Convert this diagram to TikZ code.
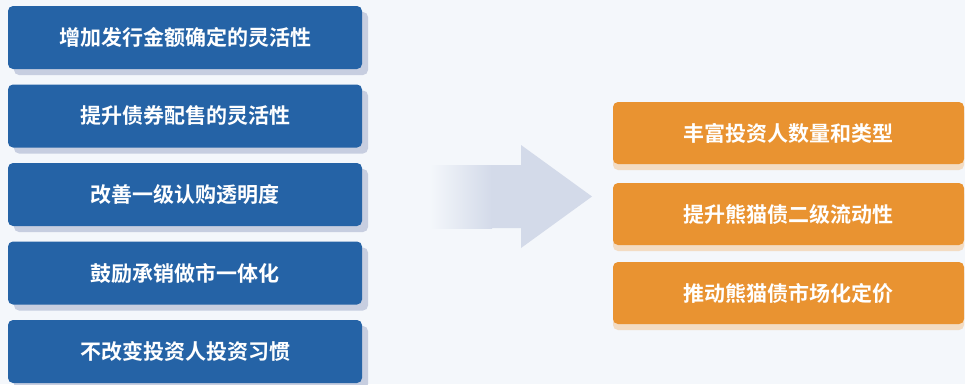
\documentclass[tikz,border=0pt]{standalone}
\usepackage{fontspec}
\newfontfamily\cjk{Noto Sans CJK SC}[BoldFont={Noto Sans CJK SC Bold}]
\definecolor{bg}{HTML}{F4F7FB}
\definecolor{bluebox}{HTML}{2563A6}
\definecolor{blueshadow}{HTML}{C7CEE0}
\definecolor{orangebox}{HTML}{E99331}
\definecolor{orangeshadow}{HTML}{F3DCC3}
\definecolor{arrowcol}{HTML}{D3DAE9}
\tikzset{
  leftbox/.style={rectangle, rounded corners=5pt, fill=bluebox, minimum width=354pt, minimum height=63pt,
    text=white, font=\cjk\bfseries\fontsize{21}{21}\selectfont, inner sep=0pt},
  rightbox/.style={rectangle, rounded corners=5pt, fill=orangebox, minimum width=351pt, minimum height=62pt,
    text=white, font=\cjk\bfseries\fontsize{21}{21}\selectfont, inner sep=0pt},
  lshadow/.style={rectangle, rounded corners=5pt, fill=blueshadow, minimum width=354pt, minimum height=63pt, inner sep=0pt},
  rshadow/.style={rectangle, rounded corners=5pt, fill=orangeshadow, minimum width=351pt, minimum height=62pt, inner sep=0pt},
}
\begin{document}
\begin{tikzpicture}[x=1pt,y=-1pt]
\fill[bg] (0,0) rectangle (965,384);
\useasboundingbox (0,0) rectangle (965,384);
% left boxes
\foreach \i/\y/\t in {1/37.5/增加发行金额确定的灵活性, 2/116/提升债券配售的灵活性, 3/194.5/改善一级认购透明度, 4/273/鼓励承销做市一体化, 5/351.5/不改变投资人投资习惯}{
  \node[lshadow] (ls\i) at (191,\y+6) {};
  \node[leftbox] (l\i) at (185,\y) {\t};
}
% right boxes
\foreach \i/\y/\t in {1/133/丰富投资人数量和类型, 2/214/提升熊猫债二级流动性, 3/293/推动熊猫债市场化定价}{
  \node[rshadow] (rs\i) at (788.5,\y+6) {};
  \node[rightbox] (r\i) at (788.5,\y) {\t};
}
% arrow
\shade[left color=bg, right color=arrowcol] (430,165) rectangle (492,228);
\fill[arrowcol] (491.5,165) -- (521,165) -- (521,145) -- (592,196.5) -- (521,248) -- (521,228) -- (491.5,228) -- cycle;
\end{tikzpicture}
\end{document}
